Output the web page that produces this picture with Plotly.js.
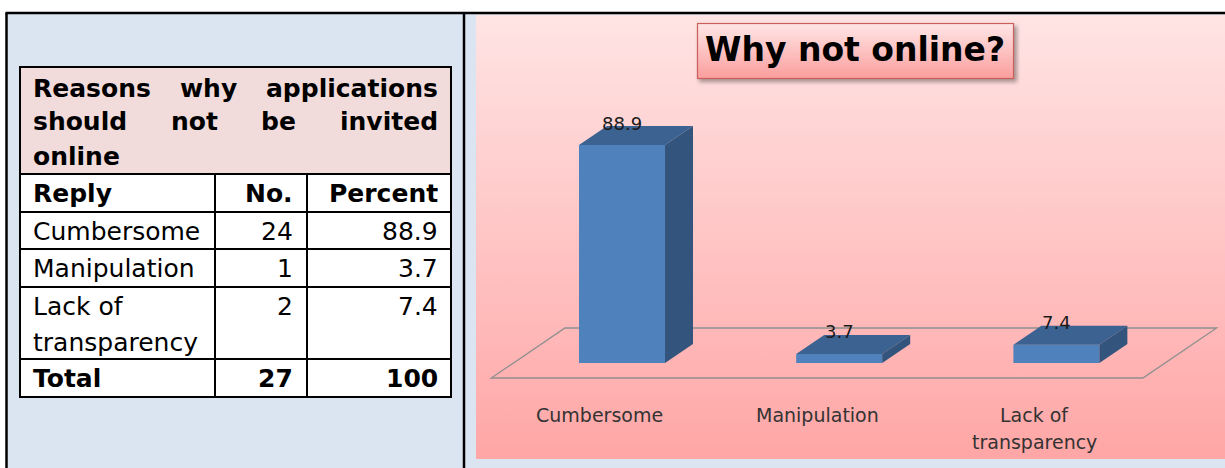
<!DOCTYPE html>
<html><head><meta charset="utf-8">
<script src="https://cdn.plot.ly/plotly-3.0.1.min.js"></script>
<style>html,body{margin:0;padding:0;background:#fff}#chart{width:1225px;height:468px}</style>
</head><body><div id="chart"></div>
<script>
// ---------------- data ----------------
const categories = ['Cumbersome', 'Manipulation', 'Lack of<br>transparency'];
const counts = [24, 1, 2];
const percents = [88.9, 3.7, 7.4];
const totalCount = 27;
const totalPercent = 100;
const tableTitleLines = ['Reasons why applications', 'should not be invited', 'online'];
const columnHeaders = ['Reply', 'No.', 'Percent'];
const totalLabel = 'Total';
const chartTitle = 'Why not online?';

// ---------------- geometry helpers ----------------
const W = 1225, H = 468;
const px = x => x / W;
const py = y => 1 - y / H;

// plot area (pixels)
const plotL = 476, plotR = 1225, plotT = 15, plotB = 459;
const x0px = 622, xUnit = 217.2;   // pixel of category 0 and px per category
const y0px = 363, yUnit = 2.452;   // pixel of value 0 and px per percent
const xRange = [(plotL - x0px) / xUnit, (plotR - x0px) / xUnit];
const yRange = [-(plotB - y0px) / yUnit, (y0px - plotT) / yUnit];
const barW = 86 / xUnit;
const dX = 28 / xUnit, dY = 19 / yUnit;          // 3D depth offset
const floorFront = -15 / 19, floorBack = 35 / 19; // depth factors of floor edges

const FONT = 'DejaVu Sans';
const shapes = [];
const annotations = [];

// white margins outside the framed table
shapes.push({type:'rect', xref:'paper', yref:'paper', x0:0, x1:1, y0:py(0), y1:py(12.5), fillcolor:'#ffffff', line:{width:0}, layer:'below'});
shapes.push({type:'rect', xref:'paper', yref:'paper', x0:0, x1:px(6), y0:0, y1:1, fillcolor:'#ffffff', line:{width:0}, layer:'below'});
// outer frame
const frameLine = {color:'#000', width:2.5};
shapes.push({type:'line', xref:'paper', yref:'paper', x0:px(5.5), x1:1, y0:py(13), y1:py(13), line:frameLine, layer:'below'});
shapes.push({type:'line', xref:'paper', yref:'paper', x0:px(6.5), x1:px(6.5), y0:py(13), y1:0, line:frameLine, layer:'below'});
shapes.push({type:'line', xref:'paper', yref:'paper', x0:px(464), x1:px(464), y0:py(13), y1:0, line:frameLine, layer:'below'});

// ---------------- table ----------------
const tL = 20, tR = 451, tTop = 67, hdrBottom = 174;
const rowLines = [212, 249, 287, 359, 397];
const colLines = [215, 307];
const textL = 33, colRightText = [293, 438];
shapes.push({type:'rect', xref:'paper', yref:'paper', x0:px(tL), x1:px(tR), y0:py(hdrBottom), y1:py(tTop), fillcolor:'#f2dcdb', line:{width:0}, layer:'below'});
shapes.push({type:'rect', xref:'paper', yref:'paper', x0:px(tL), x1:px(tR), y0:py(rowLines[rowLines.length-1]), y1:py(hdrBottom), fillcolor:'#ffffff', line:{width:0}, layer:'below'});
const tLine = {color:'#000', width:2};
[tTop, hdrBottom].concat(rowLines).forEach(y => shapes.push({type:'line', xref:'paper', yref:'paper', x0:px(tL-1), x1:px(tR+1), y0:py(y), y1:py(y), line:tLine, layer:'below'}));
[tL, tR].forEach(x => shapes.push({type:'line', xref:'paper', yref:'paper', x0:px(x), x1:px(x), y0:py(tTop), y1:py(rowLines[rowLines.length-1]), line:tLine, layer:'below'}));
colLines.forEach(x => shapes.push({type:'line', xref:'paper', yref:'paper', x0:px(x), x1:px(x), y0:py(hdrBottom), y1:py(rowLines[rowLines.length-1]), line:tLine, layer:'below'}));

function txt(text, x, y, anchor, bold, size, color, xref, family) {
  return {text:text, xref:xref||'paper', yref:'paper', x:x, y:y, xanchor:anchor, yanchor:'middle', showarrow:false,
          font:{family:family||FONT, size:size||25, color:color||'#000', weight:bold?'bold':'normal'}};
}

// justified table title
const ctx = document.createElement('canvas').getContext('2d');
ctx.font = 'bold 25px "DejaVu Sans"';
const titleYs = [88, 122, 157];
tableTitleLines.forEach((line, li) => {
  const words = line.split(' ');
  const last = li === tableTitleLines.length - 1;
  const widths = words.map(w => ctx.measureText(w).width);
  const sum = widths.reduce((a, b) => a + b, 0);
  const gap = (!last && words.length > 1) ? ((colRightText[1] - textL) - sum) / (words.length - 1) : ctx.measureText(' ').width;
  let cx = textL;
  words.forEach((w, i) => {
    annotations.push(txt(w, px(cx - 2), py(titleYs[li]), 'left', true));
    cx += widths[i] + gap;
  });
});

// column headers
const hdrY = (hdrBottom + rowLines[0]) / 2;
annotations.push(txt(columnHeaders[0], px(textL - 2), py(hdrY), 'left', true));
annotations.push(txt(columnHeaders[1], px(colRightText[0] + 2), py(hdrY), 'right', true));
annotations.push(txt(columnHeaders[2], px(colRightText[1] + 2), py(hdrY), 'right', true));

// body rows
const rowTops = [rowLines[0], rowLines[1], rowLines[2]];
categories.forEach((c, i) => {
  const lines = c.split('<br>');
  lines.forEach((l, j) => annotations.push(txt(l, px(textL - 2), py(rowTops[i] + 19 + j * 36), 'left', false)));
  annotations.push(txt(String(counts[i]), px(colRightText[0] + 2), py(rowTops[i] + 19), 'right', false));
  annotations.push(txt(String(percents[i]), px(colRightText[1] + 2), py(rowTops[i] + 19), 'right', false));
});
const totY = (rowLines[3] + rowLines[4]) / 2;
annotations.push(txt(totalLabel, px(textL - 2), py(totY), 'left', true));
annotations.push(txt(String(totalCount), px(colRightText[0] + 2), py(totY), 'right', true));
annotations.push(txt(String(totalPercent), px(colRightText[1] + 2), py(totY), 'right', true));

// ---------------- chart background & title box ----------------
const bgSvg = '<svg xmlns="http://www.w3.org/2000/svg" width="100" height="100" viewBox="0 0 100 100" preserveAspectRatio="none">' +
  '<defs><linearGradient id="g" x1="0" y1="0" x2="0" y2="1"><stop offset="0" stop-color="#ffe4e4"/><stop offset="1" stop-color="#ffa6a6"/></linearGradient></defs>' +
  '<rect width="100" height="100" fill="url(#g)"/></svg>';
const boxSvg = '<svg xmlns="http://www.w3.org/2000/svg" width="326" height="66" viewBox="0 0 326 66" preserveAspectRatio="none">' +
  '<defs><linearGradient id="b" x1="0" y1="0" x2="0" y2="1"><stop offset="0" stop-color="#ffe6e6"/><stop offset="1" stop-color="#fb9d9d"/></linearGradient>' +
  '<filter id="f" x="-10%" y="-20%" width="120%" height="150%"><feGaussianBlur stdDeviation="2"/></filter></defs>' +
  '<rect x="5" y="6" width="318" height="56" fill="rgba(0,0,0,0.35)" filter="url(#f)"/>' +
  '<rect x="3.5" y="3.5" width="316" height="55" fill="url(#b)" stroke="#c9605c" stroke-width="1.2"/></svg>';
const images = [
  {source:'data:image/svg+xml;base64,' + btoa(bgSvg), xref:'paper', yref:'paper', x:px(plotL), y:py(plotT), sizex:(plotR-plotL)/W, sizey:(plotB-plotT)/H, xanchor:'left', yanchor:'top', sizing:'stretch', layer:'below'},
  {source:'data:image/svg+xml;base64,' + btoa(boxSvg), xref:'paper', yref:'paper', x:px(694), y:py(20), sizex:326/W, sizey:66/H, xanchor:'left', yanchor:'top', sizing:'stretch', layer:'below'}
];
annotations.push(txt(chartTitle, px(855), py(50), 'center', true, 33, '#000'));

// ---------------- 3D bar chart ----------------
const xs = categories.map((c, i) => i);
const n = categories.length;
// floor
const fl = -0.5, fr = n - 0.5;
shapes.push({type:'path', xref:'x', yref:'y', layer:'below', line:{color:'#8f8f8f', width:1.3}, fillcolor:'rgba(0,0,0,0)',
  path:`M${fl + floorFront*dX},${floorFront*dY} L${fr + floorFront*dX},${floorFront*dY} L${fr + floorBack*dX},${floorBack*dY} L${fl + floorBack*dX},${floorBack*dY} Z`});
// top & side faces
xs.forEach((x, i) => {
  const v = percents[i], a = x - barW/2, b = x + barW/2;
  shapes.push({type:'path', xref:'x', yref:'y', layer:'above', line:{width:0}, fillcolor:'#3b6291',
    path:`M${a},${v} L${a+dX},${v+dY} L${b+dX},${v+dY} L${b},${v} Z`});
  shapes.push({type:'path', xref:'x', yref:'y', layer:'above', line:{width:0}, fillcolor:'#33557d',
    path:`M${b},0 L${b},${v} L${b+dX},${v+dY} L${b+dX},${dY} Z`});
  // value label
  annotations.push({text:String(v), xref:'x', yref:'y', x:x, y:v + dY, xanchor:'center', yanchor:'middle', yshift:3, showarrow:false,
    font:{family:FONT, size:18, color:'#1a1a1a'}});
  // category label
  const lines = categories[i].split('<br>');
  lines.forEach((l, j) => annotations.push(txt(l, x + floorFront*dX, py(415 + j*27), 'center', false, 19, '#333', 'x')));
});

const traces = [{
  type:'bar', x:xs, y:percents, width:barW, marker:{color:'#4f81bd', line:{width:0}},
  hoverinfo:'skip', textposition:'none'
}];

const layout = {
  width:W, height:H, margin:{l:0, r:0, t:0, b:0, pad:0},
  paper_bgcolor:'#dbe5f1', plot_bgcolor:'rgba(0,0,0,0)', showlegend:false, hovermode:false,
  xaxis:{domain:[px(plotL), px(plotR)], range:xRange, showgrid:false, zeroline:false, showticklabels:false, showline:false, ticks:'', fixedrange:true},
  yaxis:{domain:[py(plotB), py(plotT)], range:yRange, showgrid:false, zeroline:false, showticklabels:false, showline:false, ticks:'', fixedrange:true},
  shapes:shapes, annotations:annotations, images:images
};
Plotly.newPlot('chart', traces, layout, {displayModeBar:false, staticPlot:true});
</script></body></html>
